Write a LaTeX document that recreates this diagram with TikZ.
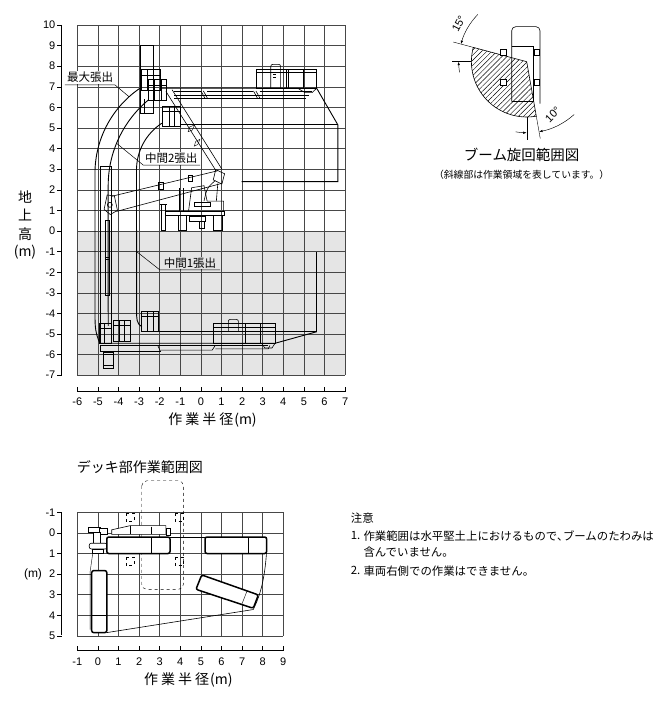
\documentclass[tikz,border=0pt]{standalone}
\usepackage{fontspec}
\setmainfont{Liberation Sans}
\newfontfamily\jp{Noto Sans CJK JP}
\usetikzlibrary{patterns.meta,arrows.meta}
\begin{document}
\begin{tikzpicture}[x=1pt,y=-1pt,
  gridl/.style={black!72,line width=0.55pt},
  env/.style={black,line width=0.9pt},
  mech/.style={black,line width=0.6pt},
  fine/.style={black,line width=0.4pt},
  lead/.style={black,line width=0.5pt},
  lbl/.style={fill=white,inner sep=0.8pt,font=\jp\fontsize{11.5}{12}\selectfont},
  numlab/.style={font=\fontsize{11}{12}\selectfont,inner sep=0pt},
  deckb/.style={black,line width=1.5pt,rounded corners=2pt},
  axl/.style={black,line width=0.6pt},
  jpt/.style={font=\jp\fontsize{14}{15}\selectfont,inner sep=0pt},
  note/.style={font=\jp\fontsize{11.4}{12}\selectfont,inner sep=0pt,anchor=west},
  dimarr/.style={black,line width=0.45pt,-{Latex[length=3.5pt,width=2.4pt]}},
]
\useasboundingbox (0,0) rectangle (665,701);

%%%%%%%%%%%%%%%% main chart %%%%%%%%%%%%%%%%
\begin{scope}[shift={(200.9pt,-231pt)},x=20.6pt,y=20.6pt]
  \fill[gray!20] (-6,-7) rectangle (7,0);
  \foreach \i in {-6,...,7} \draw[gridl] (\i,-7) -- (\i,10);
  \foreach \j in {-7,...,10} \draw[gridl] (-6,\j) -- (7,\j);

  % envelopes
  \draw[env] (-2.0,6.93) -- (5.62,6.93) -- (6.65,5.15) -- (6.65,2.4) -- (1.98,2.4);
  \draw[env] (-2.96,6.93) arc[start angle=124.3,end angle=180,radius=5]
     -- (-5.14,-4.1) to[out=-90,in=115] (-4.9,-5.45) -- (3.6,-5.45) -- (5.62,-4.89);
  \draw[env] (-2.55,6.36) arc[start angle=129.7,end angle=180,radius=5.4] -- (-4.5,-4.6);
  \draw[env] (-1.9,5.23) arc[start angle=123.3,end angle=180,radius=2.72]
     -- (-3.12,-3.9) to[out=-90,in=150] (-2.87,-4.65);
  \draw[env] (-2.07,-4.89) -- (5.62,-4.89) -- (5.62,-1.0);
  \draw[env] (-1.01,5.15) -- (6.65,5.15);

  % top-left cluster
  \draw[mech] (-2.93,5.71) rectangle (-2.31,9.0);
  \draw[fine] (-2.75,5.71) -- (-2.75,6.4);
  \draw[mech] (-2.87,6.82) rectangle (-1.99,7.85);
  \draw[fine] (-2.87,7.55) -- (-1.99,7.55) (-2.6,6.82) -- (-2.6,7.85) (-2.3,6.82) -- (-2.3,7.85);
  \draw[mech] (-2.55,6.36) rectangle (-1.66,7.36);
  \draw[fine] (-2.55,7.1) -- (-1.66,7.1) (-2.25,6.36) -- (-2.25,7.36) (-1.95,6.36) -- (-1.95,7.36);
  \draw[mech] (-1.85,5.06) rectangle (-1.01,6.05);
  \draw[fine] (-1.85,5.8) -- (-1.01,5.8) (-1.55,5.06) -- (-1.55,6.05) (-1.28,5.06) -- (-1.28,6.05);

  % upper diagonal boom
  \draw[mech] (-1.7,6.78) -- (0.75,2.9);
  \draw[mech] (-1.4,6.86) -- (1.02,3.0);
  \draw[fine] (-0.55,5.05) -- (-0.3,5.15) -- (-0.42,4.9) -- (-0.62,4.82) -- cycle;
  \draw[fine] (-0.25,4.35) -- (-0.05,4.45) -- (-0.15,4.2) -- (-0.32,4.12) -- cycle;

  % top horizontal boom
  \draw[mech] (-1.3,6.44) -- (5.1,6.44);
  \draw[fine] (-1.3,6.57) -- (5.25,6.57);
  \draw[fine] (-1.3,6.8) -- (0.0,6.8) (0.3,6.8) -- (2.55,6.8) (2.85,6.8) -- (5.4,6.8);
  \draw[mech] (0.0,6.8) -- (0.2,6.44) (0.12,6.8) -- (0.32,6.44);
  \draw[mech] (2.55,6.8) -- (2.75,6.44) (2.67,6.8) -- (2.87,6.44);

  % top-right basket
  \draw[mech] (2.67,6.93) rectangle (5.62,7.86);
  \draw[fine] (2.67,7.72) -- (5.62,7.72);
  \draw[mech] (4.16,6.93) -- (4.16,7.86) (4.24,6.93) -- (4.24,7.86);
  \draw[fine] (4.97,6.93) -- (4.97,7.86);
  \draw[mech,rounded corners=2pt] (3.39,6.93) -- (3.39,8.09) -- (3.87,8.09) -- (3.87,6.93);
  \draw[fine] (3.5,7.45) -- (3.65,7.45) (3.5,7.6) -- (3.65,7.6);
  \draw[mech] (4.7,6.93) -- (5.05,6.72) -- (5.4,6.72) -- (5.62,6.93);

  % lower diagonal boom
  \draw[mech] (-4.35,1.68) -- (0.84,2.93);
  \draw[mech] (-4.1,0.95) -- (1.01,2.31);
  \draw[mech] (0.72,2.98) -- (1.15,2.78) -- (1.02,2.28) -- (0.6,2.48) -- cycle;
  \draw[mech] (-4.55,1.75) -- (-4.2,1.7) -- (-4.05,1.0) -- (-4.4,0.8) -- (-4.7,1.05) -- cycle;
  \draw[mech] (-4.42,1.27) circle (0.12);
  \draw[fine] (-2.05,2.05) rectangle (-1.85,2.35);
  \draw[fine] (-0.6,2.4) rectangle (-0.4,2.7);

  % truck
  \draw[mech] (-1.93,0.05) rectangle (-1.72,1.3);
  \draw[mech] (-2.0,1.3) -- (-1.65,1.3);
  \draw[mech] (-1.72,0.78) rectangle (1.12,0.96);
  \draw[mech] (-1.08,0.05) rectangle (-0.72,0.78);
  \draw[mech] (0.6,0.05) rectangle (1.02,0.78);
  \draw[mech] (-0.55,0.45) rectangle (0.2,0.7);
  \draw[mech] (-0.1,0.15) rectangle (0.15,0.45);
  \draw[mech] (-1.05,0.96) -- (-1.05,2.1) (-0.85,0.96) -- (-0.85,2.1);
  \draw[mech] (-0.6,0.96) -- (-0.45,2.1) -- (0.15,2.2) -- (0.3,1.45) -- (1.1,1.45) -- (1.1,0.96);
  \draw[mech] (-0.3,1.22) rectangle (0.45,1.38);
  \draw[mech] (0.15,1.45) .. controls (0.3,2.1) .. (0.7,2.45);
  \draw[mech] (0.75,1.45) -- (0.82,2.3);

  % left vertical boom
  \draw[mech] (-4.9,-5.45) rectangle (-4.33,3.12);
  \draw[fine] (-4.66,-3.1) rectangle (-4.45,0.53);
  \draw[fine] (-4.66,-1.25) -- (-4.45,-1.25) (-4.66,-1.35) -- (-4.45,-1.35);

  % bottom-left cluster
  \draw[mech] (-4.92,-5.45) rectangle (-4.33,-4.48);
  \draw[fine] (-4.92,-4.7) -- (-4.33,-4.7) (-4.7,-5.45) -- (-4.7,-4.48);
  \draw[mech] (-4.25,-5.37) rectangle (-3.44,-4.32);
  \draw[fine] (-4.25,-4.55) -- (-3.44,-4.55) (-3.95,-5.37) -- (-3.95,-4.32) (-3.7,-5.37) -- (-3.7,-4.32);
  \draw[mech] (-4.74,-6.67) rectangle (-4.25,-5.88);
  \draw[fine] (-4.74,-6.0) -- (-4.25,-6.0) (-4.74,-6.5) -- (-4.25,-6.5);

  % lower horizontal boom
  \draw[mech] (-4.9,-5.53) -- (3.27,-5.53);
  \draw[mech] (-4.9,-5.53) -- (-4.9,-5.86) -- (-1.95,-5.86);
  \draw[mech] (-2.1,-5.55) -- (-1.95,-5.86);
  \draw[mech] (-1.95,-5.78) -- (0.55,-5.78) -- (0.7,-5.55);
  \draw[mech] (0.7,-5.72) -- (3.27,-5.72) -- (3.35,-5.55);

  % inner bottom basket
  \draw[mech] (-2.87,-4.89) rectangle (-2.07,-3.92);
  \draw[fine] (-2.87,-4.15) -- (-2.07,-4.15) (-2.6,-4.89) -- (-2.6,-3.92) (-2.33,-4.89) -- (-2.33,-3.92);

  % bottom-right basket
  \draw[mech] (0.6,-5.45) rectangle (3.6,-4.48);
  \draw[fine] (0.6,-4.65) -- (3.6,-4.65);
  \draw[mech] (2.14,-5.45) -- (2.14,-4.48) (2.87,-5.45) -- (2.87,-4.48);
  \draw[mech,rounded corners=2pt] (1.33,-4.9) -- (1.33,-4.29) -- (1.82,-4.29) -- (1.82,-4.9);
  \draw[mech] (2.95,-5.45) -- (3.1,-5.68) -- (3.45,-5.68) -- (3.6,-5.45);

  % labels and leaders
  \node[lbl] (lmax) at (-5.38,7.45) {最大張出};
  \coordinate (umaxL) at (-6.6,7.09);
  \coordinate (umaxR) at (-4.17,7.09);
  \coordinate (pmax) at ([shift={(-0.14,2.8)}]132:5);
  \draw[lead] (umaxL) -- (umaxR) -- (pmax);

  \node[lbl] (lmid2) at (-1.44,3.52) {中間2張出};
  \coordinate (um2L) at (-2.8,3.2);
  \coordinate (um2R) at (-0.04,3.2);
  \coordinate (pm2) at ([shift={(0.9,2.2)}]157.6:5.4);
  \draw[lead] (um2R) -- (um2L) -- (pm2);

  \node[lbl,fill=gray!20] (lmid1) at (-0.53,-1.55) {中間1張出};
  \coordinate (um1L) at (-1.99,-1.89);
  \coordinate (um1R) at (0.93,-1.89);
  \coordinate (pm1) at (-3.12,-1.0);
  \draw[lead] (um1R) -- (um1L) -- (pm1);
\end{scope}

% main axes
\draw[axl] (61.7,25) -- (61.7,375.7);
\foreach \k in {-7,...,10} {
  \draw[axl] (57.3,{231-20.6*\k}) -- (61.7,{231-20.6*\k});
  \node[numlab,anchor=east] at (55.5,{231-20.6*\k}) {\k};
}
\draw[axl] (77.3,391.7) -- (345,391.7);
\foreach \k in {-6,...,7} {
  \draw[axl] ({200.9+20.6*\k},387.3) -- ({200.9+20.6*\k},391.7);
  \node[numlab] at ({200.9+20.6*\k},401.7) {\k};
}
\node[jpt] (mxlab) at (212.5,420) {作\hspace{3pt}業\hspace{3pt}半\hspace{3pt}径\hspace{1pt}(m)};
\node[jpt] (ylab1) at (25,196.7) {地};
\node[jpt] (ylab2) at (25,214.5) {上};
\node[jpt] (ylab3) at (25,234) {高};
\node[jpt] (ylab4) at (25,252.5) {(m)};

%%%%%%%%%%%%%%%% boom rotation diagram %%%%%%%%%%%%%%%%
\begin{scope}[shift={(526.7pt,-61.7pt)},x=1pt,y=1pt]
  \fill[pattern={Lines[angle=45,distance=3.6pt,line width=0.45pt]}]
     (0,0) -- (165:55.3) arc[start angle=165,end angle=280,radius=55.3] -- cycle;
  \draw[mech] (0,0) -- (165:55.3) arc[start angle=165,end angle=280,radius=55.3] -- cycle;
  \draw[mech,rounded corners=4pt] (-15,-40) -- (-15,35) -- (13.3,35) -- (13.3,-42);
  \draw[mech] (-15,15) -- (6.7,15) -- (6.7,-40) -- (-15,-40);
  \draw[mech,fill=white] (-26.7,6.7) rectangle (-20.7,12.4);
  \draw[mech,fill=white] (-26.7,-23.3) rectangle (-20.7,-17.6);
  \draw[mech,fill=white] (7.3,6.7) rectangle (12.6,12.4);
  \draw[mech,fill=white] (7.3,-23.3) rectangle (12.6,-17.6);
  % 15 deg dimension
  \draw[fine] (-55.3,0) -- (-75,0);
  \draw[fine] (165:55.3) -- (165:76);
  \draw[dimarr] (136:68) arc[start angle=136,end angle=165,radius=68];
  \draw[dimarr] (189:68) arc[start angle=189,end angle=180,radius=68];
  \node[font=\fontsize{11}{12}\selectfont,rotate=62,inner sep=0pt] (d15) at (-68,38) {15°};
  % 10 deg dimension
  \draw[fine] (0,-55.3) -- (0,-78);
  \draw[fine] (280:55.3) -- (280:78);
  \draw[dimarr] (261:71) arc[start angle=261,end angle=270,radius=71];
  \draw[dimarr] (312:71) arc[start angle=312,end angle=280,radius=71];
  \node[font=\fontsize{11}{12}\selectfont,rotate=45,inner sep=0pt] (d10) at (26,-53) {10°};
\end{scope}
\node[font=\jp\fontsize{14.5}{15}\selectfont,inner sep=0pt] (rtitle) at (521.7,155) {ブーム旋回範囲図};
\node[font=\jp\fontsize{9.8}{10}\selectfont,inner sep=0pt] (rsub) at (521.7,175) {（斜線部は作業領域を表しています。）};

%%%%%%%%%%%%%%%% deck chart %%%%%%%%%%%%%%%%
\node[jpt,anchor=west] (dtitle) at (76.7,466.7) {デッキ部作業範囲図};
\begin{scope}[shift={(97.9pt,-532.9pt)},x=20.6pt,y=-20.6pt]
  \foreach \i in {-1,...,9} \draw[gridl] (\i,-1) -- (\i,5);
  \foreach \j in {-1,...,5} \draw[gridl] (-1,\j) -- (9,\j);
  \draw[fine,dashed,rounded corners=5pt] (2.13,-2.53) rectangle (4.15,2.74);
  \foreach \a/\b in {1.35/-0.95,3.74/-0.95,1.35/1.16,3.74/1.16}
     \draw[fine,dashed] (\a,\b) rectangle ++(0.4,0.4);
  % boundary
  \draw[mech] (0.43,0.2) -- (8.19,0.2);
  \draw[mech] (8.19,0.9) .. controls (8.1,2.2) and (7.9,3.0) .. (7.54,3.72) -- (0.43,4.84);
  \draw[fine] (-0.25,0.98) -- (-0.38,1.9) -- (-0.38,4.7);
  % turret
  \draw[mech,fill=white] (-0.45,-0.28) rectangle (0.1,-0.02);
  \draw[mech,fill=white] (0.05,-0.22) rectangle (0.45,0.05);
  \draw[mech,fill=white] (-0.22,-0.02) rectangle (0.12,0.55);
  \draw[mech,fill=white,rounded corners=2pt] (-0.42,0.5) rectangle (0.45,0.78);
  \draw[mech,fill=white] (-0.28,0.78) rectangle (0.25,0.98);
  % boom (top view)
  \draw[mech,fill=white] (0.67,0.07) -- (0.67,-0.15) -- (1.56,-0.35) -- (3.3,-0.35) -- (3.3,0.07) -- cycle;
  \draw[fine] (1.56,-0.35) -- (1.56,0.07) (2.61,-0.3) -- (2.61,0.07);
  \draw[mech,fill=white] (3.3,-0.22) rectangle (3.52,0.1);
  % baskets
  \draw[deckb,fill=white] (0.43,0.2) rectangle (3.5,1.0);
  \draw[fine] (2.61,0.2) -- (2.61,1.0);
  \draw[deckb,fill=white] (5.2,0.2) rectangle (8.19,1.0);
  \draw[fine] (7.3,0.2) -- (7.3,1.0);
  \draw[deckb,fill=white] (-0.3,1.83) rectangle (0.43,4.84);
  \draw[fine] (-0.3,3.99) -- (0.43,3.99);
  \draw[deckb,fill=white] (5.04,2.04) -- (7.79,3.01) -- (7.54,3.66) -- (4.76,2.74) -- cycle;
  \draw[fine] (7.24,2.82) -- (6.98,3.48);
\end{scope}
% deck axes
\draw[axl] (61.7,512.3) -- (61.7,635.3);
\foreach \k in {-1,...,5} {
  \draw[axl] (57.3,{532.9+20.6*\k}) -- (61.7,{532.9+20.6*\k});
  \node[numlab,anchor=east] at (55.5,{532.9+20.6*\k}) {\k};
}
\node[numlab,font=\fontsize{12}{13}\selectfont] (dmy) at (33,574.1) {(m)};
\draw[axl] (77.3,650.7) -- (283.3,650.7);
\foreach \k in {-1,...,9} {
  \draw[axl] ({97.9+20.6*\k},646.3) -- ({97.9+20.6*\k},650.7);
  \node[numlab] at ({97.9+20.6*\k},661.7) {\k};
}
\node[jpt] (dxlab) at (188.3,679.5) {作\hspace{3pt}業\hspace{3pt}半\hspace{3pt}径\hspace{1pt}(m)};

%%%%%%%%%%%%%%%% notes %%%%%%%%%%%%%%%%
\node[note] (n0) at (350.7,518) {注意};
\node[note] (n1a) at (350.7,536) {1.};
\node[note] (n1b) at (363.3,536) {作業範囲は水平堅土上におけるもので､ブームのたわみは};
\node[note] (n1c) at (363.3,552.5) {含んでいません。};
\node[note] (n2a) at (350.7,570.7) {2.};
\node[note] (n2b) at (363.3,570.7) {車両右側での作業はできません。};
\end{tikzpicture}
\end{document}
